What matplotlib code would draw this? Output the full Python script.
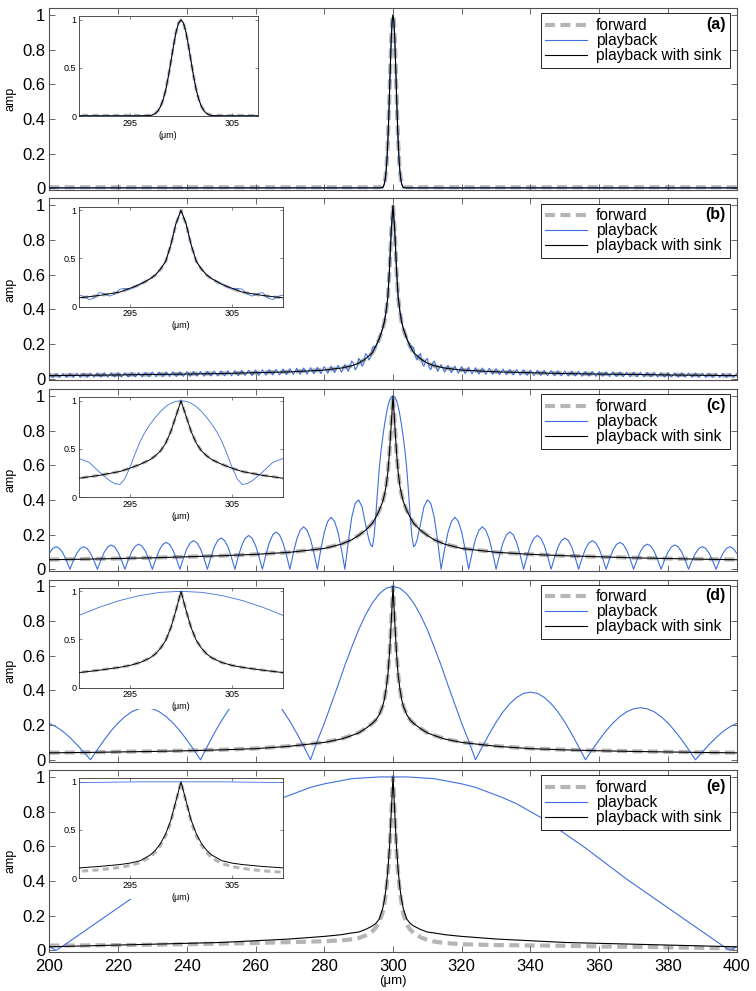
import numpy as np
import matplotlib.pyplot as plt
from matplotlib.patches import Rectangle

plt.rcParams['font.family'] = ['Liberation Sans', 'DejaVu Sans']

# ---------------- data ----------------
# panel (a): narrow gaussian pulse
x_a = [200, 250, 280, 290, 296,
       297, 297.25, 297.5, 297.75, 298, 298.25, 298.5, 298.75, 299, 299.25, 299.5, 299.75, 300,
       300.25, 300.5, 300.75, 301, 301.25, 301.5, 301.75, 302, 302.25, 302.5, 302.75, 303,
       304, 310, 320, 350, 400]
fwd_a = [.006, .006, .006, .006, .006,
         .008, .015, .029, .056, .10, .17, .27, .405, .56, .72, .866, .965, 1.0,
         .965, .866, .72, .56, .405, .27, .17, .10, .056, .029, .015, .008,
         .006, .006, .006, .006, .006]
sink_a = [.002, .002, .002, .002, .002,
          .005, .013, .027, .054, .10, .17, .27, .405, .56, .72, .866, .965, 1.0,
          .965, .866, .72, .56, .405, .27, .17, .10, .054, .027, .013, .005,
          .002, .002, .002, .002, .002]
pb_a = [.003, .003, .003, .003, .003,
        .005, .013, .027, .054, .10, .17, .27, .405, .56, .72, .866, .965, 1.0,
        .965, .866, .72, .56, .405, .27, .17, .10, .054, .027, .013, .005,
        .003, .003, .003, .003, .003]

# panels (b)-(e): forward and sink curves
x_fs = [200, 210, 220, 230, 240, 250, 260, 270, 280, 285, 288, 290, 292, 294, 295, 296, 297, 297.5,
        298, 298.5, 299, 299.5, 300, 300.5, 301, 301.5, 302, 302.5, 303, 304, 305, 306, 308, 310,
        312, 315, 320, 330, 340, 350, 360, 370, 380, 390, 400]

fwd_b = [.019, .021, .023, .025, .028, .031, .035, .041, .051, .062, .074, .089, .113, .148, .187, .228,
         .287, .328, .388, .468, .635, .855, 1.0, .855, .635, .468, .388, .328, .287, .228, .187, .148,
         .113, .089, .074, .062, .051, .041, .035, .031, .028, .025, .023, .021, .019]
sink_b = [.018, .020, .022, .025, .027, .030, .035, .040, .050, .062, .075, .090, .115, .150, .190, .230,
          .290, .330, .390, .470, .640, .860, 1.0, .860, .640, .470, .390, .330, .290, .230, .190, .150,
          .115, .090, .075, .062, .050, .040, .035, .030, .027, .025, .022, .020, .018]

fwd_c = [.056, .059, .062, .067, .072, .078, .086, .098, .121, .146, .171, .196, .226, .266, .300, .340,
         .390, .430, .480, .560, .680, .840, 1.0, .840, .680, .560, .480, .430, .390, .340, .300, .266,
         .226, .196, .171, .146, .121, .098, .086, .078, .072, .067, .062, .059, .056]
sink_c = [.055, .058, .062, .066, .072, .078, .086, .098, .120, .145, .170, .195, .225, .265, .300, .340,
          .390, .430, .480, .560, .680, .840, 1.0, .840, .680, .560, .480, .430, .390, .340, .300, .265,
          .225, .195, .170, .145, .120, .098, .086, .078, .072, .066, .062, .058, .055]

fwd_d = [.041, .043, .046, .049, .053, .058, .065, .079, .101, .121, .141, .156, .181, .210, .230, .260,
         .310, .350, .410, .490, .620, .800, 1.0, .800, .620, .490, .410, .350, .310, .260, .230, .210,
         .181, .156, .141, .121, .101, .079, .065, .058, .053, .049, .046, .043, .041]
sink_d = [.040, .042, .045, .048, .052, .057, .064, .078, .100, .120, .140, .155, .180, .210, .230, .260,
          .310, .350, .410, .490, .620, .800, 1.0, .800, .620, .490, .410, .350, .310, .260, .230, .210,
          .180, .155, .140, .120, .100, .078, .064, .057, .052, .048, .045, .042, .040]

fwd_e = [.027, .028, .030, .032, .035, .038, .042, .047, .052, .057, .063, .070, .085, .110, .130, .160,
         .220, .270, .340, .440, .580, .790, 1.0, .790, .580, .440, .340, .270, .210, .150, .120, .100,
         .075, .060, .050, .042, .035, .030, .028, .026, .022, .020, .017, .014, .010]
sink_e = [.020, .025, .030, .035, .040, .045, .055, .065, .080, .090, .100, .105, .120, .140, .155, .180,
          .240, .290, .360, .460, .600, .800, 1.0, .800, .600, .460, .360, .290, .240, .180, .155, .140,
          .120, .105, .100, .090, .080, .065, .055, .045, .040, .035, .030, .025, .020]

# playback (b): fast ripple around the pulse
x_pb_b = np.concatenate([np.arange(200, 288), np.arange(288, 312.5, 0.5), np.arange(313, 401)])
pb_b = [.030, .007, .030, .007, .031, .008, .031, .008, .032, .008,
        .032, .008, .033, .009, .033, .009, .034, .009, .034, .010,
        .035, .010, .035, .010, .036, .011, .036, .011, .037, .011,
        .038, .012, .038, .012, .039, .013, .040, .013, .040, .014,
        .041, .014, .042, .015, .042, .015, .043, .016, .044, .016,
        .045, .017, .046, .017, .047, .018, .048, .019, .049, .019,
        .050, .020, .052, .021, .053, .022, .054, .023, .056, .024,
        .058, .025, .060, .026, .062, .027, .064, .029, .066, .030,
        .070, .032, .073, .035, .077, .038, .082, .042,
        .102, .090, .052, .066, .118, .105, .072, .088, .145, .135, .108, .128, .180, .188, .178, .205,
        .240, .262, .290, .330, .390, .470, .640, .860, 1.0, .860, .640, .470, .390, .330, .290, .262,
        .240, .205, .178, .188, .180, .128, .108, .135, .145, .088, .072, .105, .118, .066, .052, .090, .102,
        .042, .082, .038, .077, .035, .073, .032, .070,
        .030, .066, .029, .064, .027, .062, .026, .060, .025, .058,
        .024, .056, .023, .054, .022, .053, .021, .052, .020, .050,
        .019, .049, .019, .048, .018, .047, .017, .046, .017, .045,
        .016, .044, .016, .043, .015, .042, .015, .042, .014, .041,
        .014, .040, .013, .040, .013, .039, .012, .038, .012, .038,
        .011, .037, .011, .036, .011, .036, .010, .035, .010, .035,
        .010, .034, .009, .034, .009, .033, .009, .033, .008, .032,
        .008, .032, .008, .031, .008, .031, .007, .030, .007, .030]

# playback (c): side lobes every 8 um
x_pb_c = np.concatenate([np.arange(200, 293), np.arange(293, 307, 0.5), np.arange(307, 401)])
pb_c = [.092, .120, .130, .120, .092, .050, 0,
        .050, .092, .120, .130, .120, .092, .050, 0,
        .053, .099, .129, .140, .129, .099, .053, 0,
        .055, .103, .133, .145, .133, .103, .055, 0,
        .059, .110, .143, .155, .143, .110, .059, 0,
        .063, .117, .152, .165, .152, .117, .063, 0,
        .068, .128, .166, .180, .166, .128, .068, 0,
        .074, .138, .179, .195, .179, .138, .074, 0,
        .082, .153, .198, .215, .198, .153, .082, 0,
        .093, .174, .225, .245, .225, .174, .093, 0,
        .114, .213, .276, .300, .276, .213, .114, 0,
        .160, .300, .380, .400, .360, .260,
        .170, .140, .130, .190, .310, .450, .580, .680, .760, .830, .890, .940, .975, .995,
        1.0, .995, .975, .940, .890, .830, .760, .680, .580, .450, .310, .190, .130, .140,
        .170, .260, .360, .400, .380, .300, .160, 0,
        .114, .213, .276, .300, .276, .213, .114, 0,
        .093, .174, .225, .245, .225, .174, .093, 0,
        .082, .153, .198, .215, .198, .153, .082, 0,
        .074, .138, .179, .195, .179, .138, .074, 0,
        .068, .128, .166, .180, .166, .128, .068, 0,
        .063, .117, .152, .165, .152, .117, .063, 0,
        .059, .110, .143, .155, .143, .110, .059, 0,
        .055, .103, .133, .145, .133, .103, .055, 0,
        .053, .099, .129, .140, .129, .099, .053, 0,
        .050, .092, .120, .130, .120, .092, .050, 0,
        .050, .092, .120, .130, .120, .092]

# playback (d): wide main lobe with side lobes
x_pb_d = np.arange(200, 401, 2)
pb_d = [.210, .190, .163, .128, .088, .045, 0,
        .059, .115, .167, .212, .249, .277, .294, .300, .294, .277, .249, .212, .167, .115, .059, 0,
        .078, .153, .222, .283, .332, .370, .392, .400, .392, .370, .332, .283, .222, .153, .078, 0,
        .110, .210, .320, .430, .545, .650, .750, .835, .905, .957, .990, 1.0,
        .990, .957, .905, .835, .750, .650, .545, .430, .320, .210, .110, 0,
        .076, .149, .217, .276, .324, .360, .383, .390, .383, .360, .324, .276, .217, .149, .076, 0,
        .059, .115, .167, .212, .249, .277, .294, .300, .294, .277, .249, .212, .167, .115, .059, 0,
        .045, .088, .128, .163, .190, .210]

# playback (e): very wide main lobe
x_pb_e = [200, 202, 204, 208, 212, 216, 220, 224, 228, 232, 236, 240, 244, 248, 252, 256, 260, 264,
          268, 272, 276, 280, 284, 288, 292, 296, 300, 304, 308, 312, 316, 320, 324, 328, 332, 336,
          340, 344, 348, 352, 356, 360, 364, 368, 372, 376, 380, 384, 388, 392, 396, 398, 400]
pb_e = [.020, 0, .025, .080, .135, .190, .245, .300, .355, .410, .470, .530, .590, .645, .700, .755,
        .800, .845, .880, .910, .940, .960, .975, .990, .995, 1.0, 1.0, 1.0, .995, .990, .975, .960,
        .940, .910, .880, .845, .800, .755, .700, .645, .590, .530, .470, .410, .355, .300, .245, .190,
        .135, .080, .025, 0, .020]

tags = ['(a)', '(b)', '(c)', '(d)', '(e)']
inset_right = [307.5, 310, 310, 310, 310]
panels = [
    (x_a, fwd_a, sink_a, x_a, pb_a),
    (x_fs, fwd_b, sink_b, x_pb_b, pb_b),
    (x_fs, fwd_c, sink_c, x_pb_c, pb_c),
    (x_fs, fwd_d, sink_d, x_pb_d, pb_d),
    (x_fs, fwd_e, sink_e, x_pb_e, pb_e),
]

# ---------------- figure ----------------
W, H = 756, 991
fig = plt.figure(figsize=(W / 100, H / 100), dpi=100)

gray = '#b5b5b5'
blue = '#3d6fdc'
frame = '#505050'

for i, (xf, fwd, sink, xp, pb) in enumerate(panels):
    top = 8 + i * 190.5
    ax = fig.add_axes([49.3 / W, 1 - (top + 182) / H, 687.4 / W, 182 / H])
    ax.plot(xf, fwd, color=gray, lw=3, dashes=(2.4, 1.3), dash_capstyle='butt', label='forward', zorder=1)
    ax.plot(xp, pb, color=blue, lw=0.8, label='playback', zorder=2)
    ax.plot(xf, sink, color='k', lw=0.8, label='playback with sink', zorder=3)
    ax.set_xlim(200, 400)
    ax.set_ylim(-0.01, 1.04)
    ax.set_xticks(range(200, 401, 20))
    ax.set_yticks([0, 0.2, 0.4, 0.6, 0.8, 1])
    ax.set_yticklabels(['0', '0.2', '0.4', '0.6', '0.8', '1'])
    ax.tick_params(direction='in', top=True, right=True, length=4, width=0.6,
                   labelsize=12, color=frame, pad=3)
    ax.tick_params(axis='x', pad=5)
    for s in ax.spines.values():
        s.set_color(frame)
        s.set_linewidth(0.8)
    if i < 4:
        ax.set_xticklabels([])
    else:
        ax.set_xlabel('(μm)', fontsize=9.5, labelpad=1)
    ax.set_ylabel('amp', fontsize=9)
    ax.yaxis.set_label_coords(-0.047, 0.5)

    leg = ax.legend(loc='upper left', bbox_to_anchor=(0.715, 0.0, 0.275, 0.971), mode='expand',
                    borderaxespad=0, fontsize=11.2, fancybox=False, edgecolor='k', framealpha=1,
                    handlelength=2.7, handletextpad=0.55, labelspacing=0.0, borderpad=0.3)
    leg.get_frame().set_linewidth(0.6)
    leg.set_zorder(5)
    ax.text(0.984, 0.952, tags[i], transform=ax.transAxes, ha='right', va='top',
            fontsize=11.5, fontweight='bold', zorder=10)

    # white area under the inset (tick labels of the inset cover the curves)
    wpx = 204 * (inset_right[i] - 290) / 20
    ax.add_patch(Rectangle((79 / W, 1 - (top + 8 + 100 + 21) / H), wpx / W, 21 / H,
                           transform=fig.transFigure, facecolor='white', edgecolor='none',
                           zorder=4, clip_on=False))

    ins = fig.add_axes([79 / W, 1 - (top + 8 + 100) / H, wpx / W, 100 / H], facecolor='white')
    ins.plot(xf, fwd, color=gray, lw=2.2, dashes=(2.0, 1.4), dash_capstyle='butt', zorder=1)
    ins.plot(xp, pb, color=blue, lw=0.6, zorder=2)
    ins.plot(xf, sink, color='k', lw=0.7, zorder=3)
    ins.set_xlim(290, inset_right[i])
    ins.set_ylim(0, 1.04)
    ins.set_xticks([295, 305])
    ins.set_yticks([0, 0.5, 1])
    ins.set_yticklabels(['0', '0.5', '1'])
    ins.tick_params(direction='in', top=True, right=True, length=2.5, width=0.5,
                    labelsize=6.5, pad=2, color=frame)
    for s in ins.spines.values():
        s.set_color('#333333')
        s.set_linewidth(0.6)
    ins.set_xlabel('(μm)', fontsize=6.5, labelpad=2)

plt.savefig('out.png', dpi=100)
